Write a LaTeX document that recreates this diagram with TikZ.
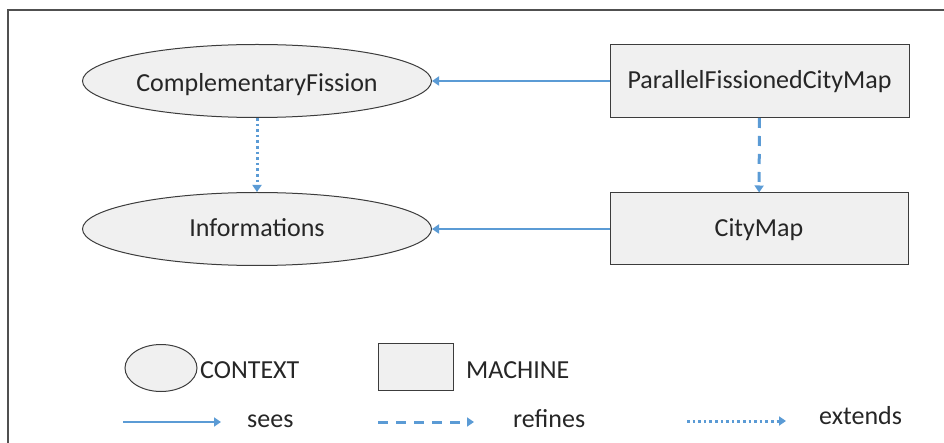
\documentclass[tikz,border=0pt]{standalone}
\usepackage{fontspec}
\setmainfont{Carlito}
\usetikzlibrary{shapes.geometric,arrows.meta}
\definecolor{linkblue}{HTML}{5B9BD5}
\definecolor{shapefill}{HTML}{F0F0F0}
\definecolor{shapeline}{HTML}{3C3C3C}
\definecolor{framegray}{HTML}{505050}
\tikzset{
  ctx/.style={ellipse, draw=shapeline, fill=shapefill, line width=1pt, inner sep=0pt},
  mch/.style={rectangle, draw=shapeline, fill=shapefill, line width=1pt, inner sep=0pt},
  lbl/.style={font=\fontsize{26}{30}\selectfont, text=black!85, inner sep=0pt},
  tip/.style={-{Triangle[width=9pt,length=7pt]}},
  sees/.style={tip, draw=linkblue, line width=2.2pt},
  refines/.style={tip, draw=linkblue, line width=3pt, dash pattern=on 10pt off 8pt},
  extends/.style={tip, draw=linkblue, line width=3pt, dash pattern=on 2.6pt off 3pt},
}
\begin{document}
\begin{tikzpicture}[x=1pt,y=-1pt]
  \useasboundingbox (0,0) rectangle (944,443);
  % frame edges
  \draw[framegray, line width=1.4pt] (8,443) -- (8,10) -- (944,10);

  % contexts
  \node[ctx, minimum width=349pt, minimum height=73pt] (cf) at (257,81) {};
  \node[lbl, anchor=base] at (257,92) {ComplementaryFission};
  \node[ctx, minimum width=349pt, minimum height=73pt] (inf) at (257,229) {};
  \node[lbl, anchor=base] at (257,237) {Informations};

  % machines
  \node[mch, minimum width=299pt, minimum height=73pt] (pf) at (759.5,81) {};
  \node[lbl, anchor=base] at (759.5,89) {ParallelFissionedCityMap};
  \node[mch, minimum width=298pt, minimum height=72pt] (cm) at (759,229) {};
  \node[lbl, anchor=base] at (759,237) {CityMap};

  % relations
  \draw[sees] (pf) -- (cf);
  \draw[sees] (cm) -- (inf);
  \draw[refines] (pf) -- (cm);
  \draw[extends] (cf) -- (inf);

  % legend
  \node[ctx, minimum width=72pt, minimum height=47pt] (lctx) at (161,368) {};
  \node[lbl, anchor=base west] (tctx) at (200,378) {CONTEXT};
  \node[mch, minimum width=75pt, minimum height=47pt] (lmch) at (415.5,366.5) {};
  \node[lbl, anchor=base west] (tmch) at (466,378) {MACHINE};

  \coordinate (s0) at (123,422);
  \coordinate (s1) at (221,422);
  \draw[sees] (s0) -- (s1);
  \node[lbl, anchor=base west] (tsees) at (247,427) {sees};

  \coordinate (r0) at (378,422);
  \coordinate (r1) at (474,422);
  \draw[refines] (r0) -- (r1);
  \node[lbl, anchor=base west] (tref) at (513,427) {refines};

  \coordinate (e0) at (687,421);
  \coordinate (e1) at (786,421);
  \draw[extends] (e0) -- (e1);
  \node[lbl, anchor=base west] (text) at (819,424) {extends};
\end{tikzpicture}
\end{document}
